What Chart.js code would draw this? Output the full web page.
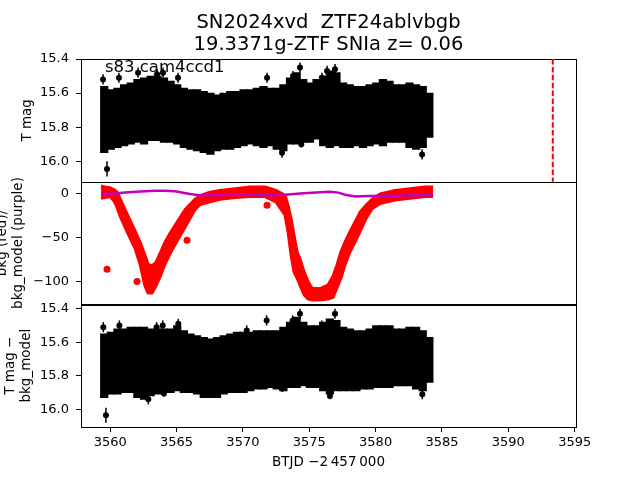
<!DOCTYPE html>
<html>
<head>
<meta charset="utf-8">
<script src="https://cdn.jsdelivr.net/npm/chart.js@4.4.1/dist/chart.umd.min.js"></script>
<style>
  html, body { margin: 0; padding: 0; background: #fff; }
</style>
</head>
<body>
<canvas id="lc" width="640" height="480"></canvas>
<script>
// text
const titleLines = ['SN2024xvd  ZTF24ablvbgb', '19.3371g-ZTF SNIa z= 0.06'];
const sectorLabel = 's83 cam4ccd1';
const sectorLabelAt = [3559.6, 15.475];

// ticks
const xTicks = [3560, 3565, 3570, 3575, 3580, 3585, 3590, 3595];
const magTicks = [15.4, 15.6, 15.8, 16.0];
const bkgTicks = [-100, -50, 0];

// end of the sector (dashed red line)
const sectorEnd = 3593.35;

// light curve envelope, 0.5 d bins (bright edge / faint edge)
const binT = [3559.55, 3560.05, 3560.55, 3561.05, 3561.55, 3562.05, 3562.55, 3563.05, 3563.55, 3564.05,
  3564.55, 3565.05, 3565.55, 3566.05, 3566.55, 3567.05, 3567.55, 3568.05, 3568.55, 3569.05,
  3569.55, 3570.05, 3570.55, 3571.05, 3571.55, 3572.05, 3572.55, 3573.05, 3573.55, 3574.05,
  3574.55, 3575.05, 3575.55, 3576.05, 3576.55, 3577.05, 3577.55, 3578.05, 3578.55, 3579.05,
  3579.55, 3580.05, 3580.55, 3581.05, 3581.55, 3582.05, 3582.55, 3583.05, 3583.55, 3584.05];
const topLow = [15.56, 15.58, 15.57, 15.55, 15.54, 15.52, 15.51, 15.50, 15.50, 15.51,
  15.53, 15.55, 15.57, 15.58, 15.58, 15.59, 15.60, 15.61, 15.60, 15.59,
  15.59, 15.58, 15.58, 15.57, 15.56, 15.57, 15.57, 15.55, 15.51, 15.48,
  15.52, 15.54, 15.52, 15.50, 15.47, 15.48, 15.54, 15.55, 15.56, 15.56,
  15.55, 15.54, 15.52, 15.53, 15.55, 15.55, 15.54, 15.55, 15.56, 15.60];
const topHigh = [15.95, 15.93, 15.92, 15.91, 15.90, 15.89, 15.90, 15.88, 15.88, 15.89,
  15.89, 15.90, 15.92, 15.93, 15.94, 15.95, 15.96, 15.94, 15.93, 15.93,
  15.92, 15.91, 15.90, 15.91, 15.92, 15.91, 15.93, 15.94, 15.90, 15.90,
  15.89, 15.89, 15.87, 15.91, 15.92, 15.91, 15.92, 15.92, 15.91, 15.92,
  15.91, 15.90, 15.91, 15.89, 15.89, 15.89, 15.92, 15.93, 15.92, 15.86];
const botLow = [15.55, 15.54, 15.52, 15.52, 15.51, 15.51, 15.51, 15.52, 15.52, 15.52,
  15.52, 15.50, 15.53, 15.55, 15.56, 15.57, 15.58, 15.57, 15.56, 15.55,
  15.54, 15.54, 15.54, 15.53, 15.53, 15.53, 15.53, 15.51, 15.48, 15.45,
  15.48, 15.50, 15.50, 15.48, 15.46, 15.47, 15.51, 15.52, 15.53, 15.53,
  15.52, 15.50, 15.50, 15.50, 15.52, 15.52, 15.51, 15.51, 15.53, 15.57];
const botHigh = [15.93, 15.91, 15.91, 15.90, 15.90, 15.93, 15.94, 15.92, 15.91, 15.90,
  15.90, 15.89, 15.90, 15.90, 15.91, 15.93, 15.93, 15.93, 15.91, 15.90,
  15.90, 15.90, 15.89, 15.88, 15.88, 15.87, 15.88, 15.89, 15.87, 15.87,
  15.86, 15.87, 15.87, 15.89, 15.91, 15.89, 15.89, 15.89, 15.89, 15.88,
  15.88, 15.87, 15.87, 15.87, 15.86, 15.86, 15.86, 15.88, 15.89, 15.84];

// isolated points with error bars
const topOutT = [3559.46, 3560.66, 3562.10, 3563.53, 3563.98, 3565.11, 3571.82, 3573.78, 3574.30, 3575.96, 3576.34, 3576.94, 3559.76, 3572.95, 3574.40, 3583.50];
const topOutMag = [15.52, 15.51, 15.48, 15.49, 15.48, 15.51, 15.51, 15.50, 15.45, 15.51, 15.47, 15.46, 16.045, 15.95, 15.90, 15.96];
const topOutErr = [0.03, 0.03, 0.03, 0.03, 0.03, 0.03, 0.03, 0.03, 0.03, 0.03, 0.03, 0.03, 0.045, 0.03, 0.02, 0.03];
const botOutT = [3559.48, 3560.69, 3563.50, 3563.96, 3565.13, 3570.29, 3571.79, 3573.75, 3574.30, 3575.94, 3576.94, 3559.68, 3562.87, 3564.05, 3572.97, 3576.56, 3583.52];
const botOutMag = [15.51, 15.50, 15.51, 15.50, 15.49, 15.53, 15.47, 15.47, 15.43, 15.50, 15.43, 16.035, 15.94, 15.905, 15.876, 15.92, 15.91];
const botOutErr = [0.03, 0.03, 0.03, 0.03, 0.03, 0.03, 0.03, 0.03, 0.03, 0.03, 0.03, 0.045, 0.03, 0.02, 0.02, 0.02, 0.03];

// background (red): upper / lower edge of the point cloud
const bkgT = [3559.31, 3559.61, 3559.99, 3560.29, 3560.51, 3560.74, 3561.12, 3561.49, 3561.87, 3562.25,
  3562.62, 3562.85, 3563.15, 3563.45, 3563.75, 3564.13, 3564.51, 3564.88, 3565.26, 3565.64,
  3566.01, 3566.39, 3566.77, 3567.52, 3568.27, 3569.41, 3570.54, 3571.67, 3572.49, 3573.17,
  3573.40, 3573.63, 3573.85, 3574.08, 3574.30, 3574.61, 3574.91, 3575.21, 3575.81, 3576.41,
  3576.79, 3577.09, 3577.39, 3577.69, 3578.07, 3578.45, 3578.82, 3579.28, 3579.73, 3580.33,
  3581.46, 3582.59, 3583.72, 3584.33];
const bkgHi = [9, 8, 7, 5, 2, -5, -18, -30, -42, -55,
  -70, -80, -82, -78, -68, -55, -45, -36, -27, -18,
  -12, -6, -2, 2, 4, 6, 8, 8, 4, -1.5,
  -13, -28, -47, -66, -74, -89, -100, -108, -108, -104,
  -94, -81, -66, -55, -43, -32, -21, -13, -6, 0,
  4, 6, 8, 8];
const bkgLo = [-5, -4, -3, -8, -15, -25, -38, -50, -62, -80,
  -105, -113, -113, -105, -95, -80, -68, -58, -48, -38,
  -28, -18, -12, -9, -6, -4, -3, -3, -9, -24,
  -43, -70, -89, -96, -104, -115, -120, -121, -121, -120,
  -118, -107, -96, -81, -66, -55, -43, -28, -17, -11,
  -7, -5, -3, -3];
const bkgOutT = [3559.76, 3571.82, 3562.02, 3565.79];
const bkgOutV = [-86, -13, -100, -53];

// background model (purple)
const modelT = [3559.31, 3560.3, 3561.12, 3562.0, 3562.62, 3563.4, 3564.1, 3564.88, 3565.6, 3566.0,
  3566.77, 3568.0, 3569.03, 3570.5, 3572.04, 3573.2, 3574.3, 3575.5, 3576.56, 3577.2,
  3577.7, 3578.45, 3579.5, 3580.33, 3581.5, 3582.59, 3583.5, 3584.33];
const modelV = [0, 0.5, 1.5, 2.5, 3, 3.5, 3.5, 3, 1, 0,
  -1.5, -1.5, -1, -1, -1.5, -1, 0.5, 1.5, 2.5, 1.5,
  -1, -3, -2.5, -2, -2, -1.5, -1.5, -1];

Chart.defaults.font.family = 'DejaVu Sans';
Chart.defaults.color = '#000';

const minus = (v) => (v < 0 ? '\u2212' + Math.abs(v) : String(v));
const pts = (xs, ys) => xs.map((x, i) => ({ x: x, y: ys[i] }));
const bars = (xs, lo, hi) => xs.map((x, i) => ({ x: x, y: [lo[i], hi[i]] }));

const panelIds = ['yTop', 'yMid', 'yBot'];

const framePlugin = {
  id: 'frames',
  afterDraw(chart) {
    const { ctx, chartArea } = chart;
    ctx.save();
    ctx.strokeStyle = '#000';
    ctx.lineWidth = 1;
    panelIds.forEach((id) => {
      const s = chart.scales[id];
      ctx.strokeRect(Math.round(chartArea.left) + 0.5, Math.round(s.top) + 0.5,
        Math.round(chartArea.right - chartArea.left), Math.round(s.bottom - s.top));
    });
    // dashed end-of-sector line in the top panel
    const xs = chart.scales.x;
    const yt = chart.scales.yTop;
    const px = xs.getPixelForValue(sectorEnd);
    ctx.strokeStyle = '#ff0000';
    ctx.lineWidth = 2;
    ctx.setLineDash([5.5, 2.4]);
    ctx.beginPath();
    ctx.moveTo(px, yt.top);
    ctx.lineTo(px, yt.bottom);
    ctx.stroke();
    ctx.setLineDash([]);
    // title
    ctx.fillStyle = '#000';
    ctx.textAlign = 'center';
    ctx.textBaseline = 'alphabetic';
    ctx.font = '19.5px "DejaVu Sans"';
    const cx = (chartArea.left + chartArea.right) / 2;
    ctx.fillText(titleLines[0], cx, 28);
    ctx.fillText(titleLines[1], cx, 49.5);
    // sector / camera label
    ctx.textAlign = 'left';
    ctx.font = '16.5px "DejaVu Sans"';
    ctx.fillText(sectorLabel, xs.getPixelForValue(sectorLabelAt[0]), yt.getPixelForValue(sectorLabelAt[1]));
    ctx.restore();
  }
};

const errorBars = {
  id: 'errorBars',
  afterDatasetsDraw(chart) {
    const ctx = chart.ctx;
    chart.data.datasets.forEach((ds, i) => {
      if (!ds.errors) return;
      const meta = chart.getDatasetMeta(i);
      const ys = chart.scales[ds.yAxisID];
      ctx.save();
      ctx.strokeStyle = '#000';
      ctx.lineWidth = 1.5;
      meta.data.forEach((pt, j) => {
        const v = ds.data[j].y;
        const e = ds.errors[j];
        ctx.beginPath();
        ctx.moveTo(pt.x, ys.getPixelForValue(v - e));
        ctx.lineTo(pt.x, ys.getPixelForValue(v + e));
        ctx.stroke();
      });
      ctx.restore();
    });
  }
};

const yAxis = (weight, min, max, reverse, ticks, fmt, title, padTop) => ({
  type: 'linear',
  position: 'left',
  stack: 'panels',
  stackWeight: 1,
  weight: weight,
  reverse: reverse,
  min: min,
  max: max,
  afterBuildTicks: (s) => { s.ticks = ticks.map((v) => ({ value: v })); },
  afterFit: (s) => { s.width = 81; },
  ticks: { font: { size: 13 }, color: '#000', padding: 7, callback: fmt },
  grid: { drawOnChartArea: false, drawTicks: true, tickLength: 5, color: '#000' },
  border: { display: false },
  title: {
    display: true,
    text: title,
    font: { size: 13.5 },
    color: '#000',
    padding: { top: padTop, bottom: 0 }
  }
});

const bandStyle = {
  type: 'bar', backgroundColor: '#000', borderWidth: 0, barThickness: 7.6, grouped: false
};

new Chart(document.getElementById('lc'), {
  type: 'line',
  data: {
    datasets: [
      { type: 'scatter', data: pts(topOutT, topOutMag), errors: topOutErr, yAxisID: 'yTop',
        backgroundColor: '#000', borderWidth: 0, pointRadius: 3 },
      Object.assign({ data: bars(binT, topLow, topHigh), yAxisID: 'yTop' }, bandStyle),
      { type: 'line', data: pts(modelT, modelV), yAxisID: 'yMid', borderColor: '#bf00bf',
        borderWidth: 2.5, pointRadius: 0, fill: false, tension: 0 },
      { type: 'scatter', data: pts(bkgOutT, bkgOutV), yAxisID: 'yMid', backgroundColor: '#ff0000',
        borderWidth: 0, pointRadius: 3.5 },
      { type: 'line', data: pts(bkgT, bkgHi), yAxisID: 'yMid', borderColor: '#ff0000',
        backgroundColor: '#ff0000', borderWidth: 3, pointRadius: 0, fill: '+1', tension: 0,
        borderJoinStyle: 'round' },
      { type: 'line', data: pts(bkgT, bkgLo), yAxisID: 'yMid', borderColor: '#ff0000',
        borderWidth: 3, pointRadius: 0, fill: false, tension: 0, borderJoinStyle: 'round' },
      { type: 'scatter', data: pts(botOutT, botOutMag), errors: botOutErr, yAxisID: 'yBot',
        backgroundColor: '#000', borderWidth: 0, pointRadius: 3 },
      Object.assign({ data: bars(binT, botLow, botHigh), yAxisID: 'yBot' }, bandStyle)
    ]
  },
  options: {
    responsive: false,
    animation: false,
    devicePixelRatio: 1,
    layout: { padding: { top: 59, right: 64, bottom: 0, left: 0 } },
    plugins: { legend: { display: false }, tooltip: { enabled: false }, title: { display: false } },
    scales: {
      x: {
        type: 'linear',
        position: 'bottom',
        offset: false,
        min: 3557.8,
        max: 3595.1,
        afterBuildTicks: (s) => { s.ticks = xTicks.map((v) => ({ value: v })); },
        afterFit: (s) => { s.height = 53; },
        ticks: { font: { size: 13 }, color: '#000', padding: 3, maxRotation: 0, autoSkip: false,
          callback: (v) => String(v) },
        grid: { offset: false, drawOnChartArea: false, drawTicks: true, tickLength: 5, color: '#000' },
        border: { display: false },
        title: {
          display: true,
          text: 'BTJD \u22122\u2009457\u2009000',
          font: { size: 13.5 },
          color: '#000',
          padding: { top: 0, bottom: 9 }
        }
      },
      yTop: yAxis(3, 15.4, 16.12, true, magTicks, (v) => v.toFixed(1), 'T mag', 19),
      yMid: yAxis(2, -126, 14, false, bkgTicks, minus, ['bkg (red)/', 'bkg_model (purple)'], -6),
      yBot: yAxis(1, 15.374, 16.105, true, magTicks, (v) => v.toFixed(1), ['T mag \u2212', 'bkg_model'], 2)
    }
  },
  plugins: [errorBars, framePlugin]
});
</script>
</body>
</html>
